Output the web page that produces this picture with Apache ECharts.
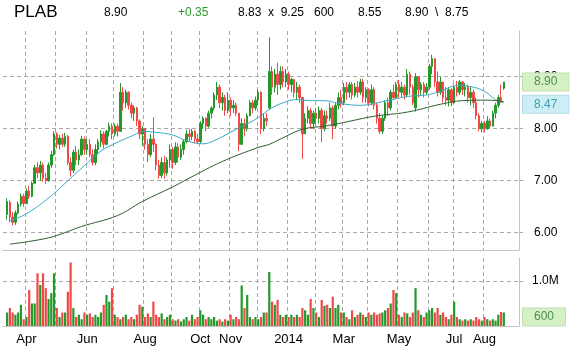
<!DOCTYPE html>
<html>
<head>
<meta charset="utf-8">
<script src="https://cdn.jsdelivr.net/npm/echarts@6/dist/echarts.min.js"></script>
<style>
html, body { margin: 0; padding: 0; background: #fff; }
#chart { width: 570px; height: 351px; }
</style>
</head>
<body>
<div id="chart"></div>
<script>
// one slot = about two trading days; months and how many slots each one gets
const months = ['Mar', 'Apr', 'May', 'Jun', 'Jul', 'Aug', 'Sep', 'Oct', 'Nov', 'Dec', 'Jan', 'Feb', 'Mar', 'Apr', 'May', 'Jun', 'Jul', 'Aug'];
const monthSlots = [8, 11, 11, 10, 11, 10, 10, 11, 10, 11, 10, 10, 9, 11, 11, 9, 11, 13];
const monthLabels = ['', 'Apr', '', 'Jun', '', 'Aug', '', 'Oct', 'Nov', '', '2014', '', 'Mar', '', 'May', '', 'Jul', 'Aug'];
const priceTicks = [6, 7, 8, 9];
const volumeTicks = [1.0];
const firstSlot = 1;

const opens = [
  6.35, 6.58, 6.30, 6.20, 6.38, 6.55, 6.70, 6.56, 6.80, 6.70,
  6.95, 7.25, 7.15, 7.30, 7.05, 7.00, 7.30, 7.50, 7.90, 7.70,
  7.82, 7.70, 7.85, 7.35, 7.20, 7.55, 7.40, 7.50, 7.80, 7.60,
  7.70, 7.50, 7.35, 7.60, 7.75, 7.90, 7.70, 7.95, 8.05, 7.90,
  8.05, 7.95, 8.70, 8.50, 8.70, 8.45, 8.30, 8.40, 8.15, 7.90,
  8.00, 7.70, 7.50, 7.80, 7.70, 7.30, 7.10, 7.35, 7.15, 7.40,
  7.60, 7.35, 7.65, 7.45, 7.60, 7.75, 7.90, 7.85, 7.95, 7.80,
  7.75, 8.10, 8.20, 8.05, 8.30, 8.40, 8.65, 8.80, 8.50, 8.60,
  8.35, 8.55, 8.40, 8.45, 8.30, 7.70, 8.10, 8.00, 8.25, 8.50,
  8.40, 8.55, 8.70, 8.00, 8.20, 8.40, 9.10, 8.80, 9.05, 8.85,
  9.10, 8.90, 9.05, 8.85, 8.95, 8.70, 8.80, 8.60, 7.90, 8.20,
  8.35, 8.10, 8.30, 8.20, 8.35, 8.00, 8.25, 8.20, 8.40, 8.05,
  8.45, 8.60, 8.50, 8.80, 8.70, 8.85, 8.65, 8.80, 8.70, 8.90,
  8.60, 8.75, 8.50, 8.75, 8.45, 8.20, 7.95, 8.20, 8.50, 8.40,
  8.70, 8.60, 8.85, 8.70, 8.80, 8.65, 9.05, 8.80, 8.40, 9.00,
  8.75, 8.85, 8.70, 8.80, 9.20, 9.35, 8.90, 8.70, 8.90, 8.60,
  8.55, 8.75, 8.50, 8.80, 8.70, 8.90, 8.75, 8.80, 8.60, 8.70,
  8.50, 8.25, 8.00, 8.10, 8.00, 8.15, 8.05, 8.30, 8.45, 8.60, 8.78
];
const closes = [
  6.60, 6.30, 6.20, 6.38, 6.55, 6.70, 6.56, 6.80, 6.70, 6.95,
  7.25, 7.15, 7.30, 7.05, 7.00, 7.30, 7.50, 7.90, 7.70, 7.82,
  7.70, 7.85, 7.35, 7.20, 7.55, 7.40, 7.50, 7.80, 7.60, 7.70,
  7.50, 7.35, 7.60, 7.75, 7.90, 7.70, 7.95, 8.05, 7.90, 8.05,
  7.95, 8.70, 8.50, 8.70, 8.45, 8.30, 8.40, 8.15, 7.90, 8.00,
  7.70, 7.50, 7.80, 7.70, 7.30, 7.10, 7.35, 7.15, 7.40, 7.60,
  7.35, 7.65, 7.45, 7.60, 7.75, 7.90, 7.85, 7.95, 7.80, 7.75,
  8.10, 8.20, 8.05, 8.30, 8.40, 8.65, 8.80, 8.50, 8.60, 8.35,
  8.55, 8.40, 8.45, 8.30, 7.70, 8.10, 8.00, 8.25, 8.50, 8.40,
  8.55, 8.70, 8.00, 8.20, 8.15, 9.10, 8.80, 9.05, 8.85, 9.10,
  8.90, 9.05, 8.85, 8.95, 8.70, 8.80, 8.60, 7.90, 8.20, 8.35,
  8.10, 8.30, 8.20, 8.35, 8.00, 8.25, 8.20, 8.40, 8.05, 8.45,
  8.60, 8.50, 8.80, 8.70, 8.85, 8.65, 8.80, 8.70, 8.90, 8.60,
  8.75, 8.50, 8.75, 8.45, 8.20, 7.95, 8.20, 8.50, 8.40, 8.70,
  8.60, 8.85, 8.70, 8.80, 8.65, 9.05, 8.80, 8.50, 9.00, 8.75,
  8.85, 8.70, 8.80, 9.20, 9.35, 8.90, 8.70, 8.90, 8.60, 8.55,
  8.75, 8.50, 8.80, 8.70, 8.90, 8.75, 8.80, 8.60, 8.70, 8.50,
  8.25, 8.00, 8.10, 8.00, 8.15, 8.05, 8.30, 8.45, 8.60, 8.52, 8.90
];
const lows = [
  6.25, 6.20, 6.14, 6.15, 6.35, 6.50, 6.50, 6.55, 6.65, 6.68,
  6.95, 7.05, 7.00, 6.98, 6.94, 6.98, 7.25, 7.48, 7.62, 7.60,
  7.65, 7.65, 7.30, 7.08, 7.15, 7.30, 7.30, 7.48, 7.50, 7.50,
  7.45, 7.29, 7.30, 7.50, 7.65, 7.62, 7.68, 7.85, 7.80, 7.85,
  7.85, 7.95, 8.35, 8.40, 8.37, 8.20, 8.15, 8.05, 7.80, 7.67,
  7.60, 7.36, 7.45, 7.55, 7.20, 7.04, 7.05, 7.04, 7.10, 7.25,
  7.23, 7.30, 7.35, 7.40, 7.50, 7.72, 7.75, 7.78, 7.72, 7.70,
  7.72, 8.00, 7.95, 8.02, 8.20, 8.35, 8.55, 8.40, 8.35, 8.25,
  8.30, 8.24, 8.30, 8.24, 7.57, 7.70, 7.85, 7.95, 8.24, 8.30,
  8.35, 8.45, 7.90, 7.95, 8.05, 8.37, 8.65, 8.70, 8.65, 8.75,
  8.80, 8.80, 8.75, 8.70, 8.60, 8.55, 8.50, 7.42, 7.90, 8.10,
  8.00, 8.00, 8.05, 8.10, 7.74, 7.95, 8.10, 8.15, 7.80, 8.00,
  8.37, 8.40, 8.45, 8.56, 8.60, 8.56, 8.60, 8.60, 8.65, 8.50,
  8.50, 8.43, 8.45, 8.37, 8.10, 7.90, 7.90, 8.15, 8.24, 8.35,
  8.56, 8.58, 8.60, 8.60, 8.56, 8.60, 8.65, 8.45, 8.33, 8.60,
  8.65, 8.60, 8.65, 8.75, 9.05, 8.80, 8.62, 8.65, 8.50, 8.45,
  8.43, 8.43, 8.48, 8.62, 8.65, 8.65, 8.62, 8.50, 8.45, 8.40,
  8.18, 7.95, 7.93, 7.93, 7.98, 8.00, 8.05, 8.20, 8.40, 8.50, 8.75
];
const highs = [
  6.66, 6.62, 6.40, 6.43, 6.60, 6.75, 6.75, 6.85, 6.90, 6.98,
  7.30, 7.36, 7.38, 7.35, 7.15, 7.35, 7.57, 7.95, 7.93, 7.88,
  7.90, 7.92, 7.88, 7.45, 7.60, 7.67, 7.60, 7.86, 7.85, 7.80,
  7.80, 7.60, 7.70, 7.80, 7.97, 7.95, 7.98, 8.12, 8.10, 8.10,
  8.10, 8.88, 8.80, 8.75, 8.72, 8.50, 8.45, 8.42, 8.18, 8.05,
  8.00, 7.80, 7.90, 8.22, 7.72, 7.40, 7.45, 7.48, 7.45, 7.70,
  7.65, 7.74, 7.72, 7.70, 7.80, 7.98, 8.00, 8.00, 7.98, 7.90,
  8.15, 8.24, 8.22, 8.35, 8.43, 8.70, 8.90, 8.85, 8.70, 8.65,
  8.70, 8.60, 8.55, 8.50, 8.30, 8.20, 8.20, 8.30, 8.55, 8.55,
  8.62, 8.75, 8.72, 8.30, 8.30, 9.76, 9.20, 9.15, 9.27, 9.20,
  9.20, 9.15, 9.10, 8.98, 8.95, 8.90, 8.85, 8.60, 8.30, 8.43,
  8.40, 8.35, 8.40, 8.43, 8.40, 8.35, 8.35, 8.50, 8.45, 8.50,
  8.70, 8.75, 8.88, 8.90, 8.90, 8.90, 8.88, 8.92, 8.96, 8.96,
  8.80, 8.78, 8.85, 8.80, 8.50, 8.30, 8.25, 8.55, 8.60, 8.75,
  8.85, 8.90, 8.94, 8.90, 8.85, 9.15, 9.10, 8.85, 9.07, 9.00,
  8.90, 8.90, 8.88, 9.25, 9.42, 9.35, 9.10, 9.00, 8.90, 8.80,
  8.80, 8.78, 8.85, 8.92, 8.94, 8.92, 8.88, 8.85, 8.80, 8.75,
  8.60, 8.30, 8.15, 8.15, 8.24, 8.20, 8.35, 8.50, 8.65, 8.85, 8.90
];
// volume in millions of shares
const volumes = [
  0.30, 0.40, 0.30, 0.25, 0.30, 0.47, 0.15, 0.20, 0.80, 0.50,
  0.50, 1.17, 0.91, 1.17, 0.84, 0.60, 0.73, 1.17, 0.40, 0.20,
  0.30, 0.30, 0.76, 1.41, 0.40, 0.20, 0.25, 0.15, 0.30, 0.25,
  0.28, 0.20, 0.25, 0.20, 0.30, 0.47, 0.69, 0.54, 0.84, 0.25,
  0.20, 0.15, 0.20, 0.25, 0.15, 0.20, 0.15, 0.25, 0.47, 0.43,
  0.20, 0.28, 0.20, 0.54, 0.25, 0.20, 0.28, 0.15, 0.20, 0.25,
  0.15, 0.12, 0.15, 0.10, 0.15, 0.20, 0.12, 0.25, 0.15, 0.20,
  0.35, 0.25, 0.15, 0.20, 0.15, 0.20, 0.12, 0.15, 0.10, 0.15,
  0.12, 0.25, 0.15, 0.20, 0.15, 0.90, 0.40, 0.69, 0.20, 0.15,
  0.20, 0.15, 0.20, 0.30, 0.30, 1.20, 0.54, 0.47, 0.58, 0.25,
  0.20, 0.25, 0.20, 0.25, 0.20, 0.25, 0.20, 0.40, 0.35, 0.25,
  0.60, 0.40, 0.30, 0.20, 0.58, 0.45, 0.47, 0.40, 0.65, 0.40,
  0.47, 0.30, 0.30, 0.20, 0.15, 0.35, 0.20, 0.25, 0.30, 0.25,
  0.20, 0.30, 0.25, 0.30, 0.25, 0.28, 0.30, 0.35, 0.40, 0.50,
  0.80, 0.73, 0.25, 0.20, 0.30, 0.28, 0.20, 0.30, 0.84, 0.35,
  0.25, 0.20, 0.30, 0.35, 0.40, 0.30, 0.40, 0.25, 0.30, 0.20,
  0.15, 0.25, 0.54, 0.20, 0.15, 0.12, 0.15, 0.12, 0.15, 0.12,
  0.20, 0.15, 0.12, 0.20, 0.15, 0.12, 0.15, 0.12, 0.25, 0.31, 0.30
];
// moving averages: [slot, value]
const ma50 = [
  [2, 6.23], [6, 6.31], [10, 6.43], [17, 6.71], [23, 7.0], [29, 7.29], [35, 7.57],
  [41, 7.74], [47, 7.88], [50, 7.95], [55, 7.93], [61, 7.88], [66, 7.77], [72, 7.71],
  [76, 7.77], [84, 7.99], [92, 8.21], [96, 8.37], [101, 8.5], [106, 8.56], [111, 8.54],
  [116, 8.54], [121, 8.49], [129, 8.45], [137, 8.52], [146, 8.62], [153, 8.65],
  [158, 8.72], [164, 8.83], [169, 8.81], [174, 8.72], [178, 8.56], [181, 8.5]
];
const ma200 = [
  [2, 5.78], [10, 5.84], [18, 5.93], [28, 6.12], [41, 6.33], [50, 6.6], [61, 6.88],
  [67, 7.05], [79, 7.37], [92, 7.64], [96, 7.7], [100, 7.8], [108, 7.99], [116, 8.05],
  [123, 8.12], [134, 8.24], [146, 8.32], [158, 8.47], [166, 8.54], [175, 8.55], [181, 8.52]
];
const lastMa50 = 8.47;
const lastVolumeText = '600';
const header = [
  { text: 'PLAB', x: 14, size: 17 },
  { text: '8.90', x: 104 },
  { text: '+0.35', x: 178, color: '#2f9a2f' },
  { text: '8.83  x  9.25', x: 238 },
  { text: '600', x: 314 },
  { text: '8.55', x: 358 },
  { text: '8.90  \\  8.75', x: 405 }
];

const font = "'Liberation Sans', Arial, sans-serif";
const gridColor = '#a8a8a8';
const frameColor = '#c4c4c4';
const upColor = '#23992a';
const downColor = '#f24848';

const categories = [];
const monthStart = {};
months.forEach((m, k) => {
  monthStart[categories.length] = monthLabels[k];
  for (let s = 0; s < monthSlots[k]; s++) {
    categories.push(m + (k < 10 ? '13' : '14') + '-' + s);
  }
});

const candleData = opens.map((o, k) => [firstSlot + k, o, closes[k], lows[k], highs[k]]);
const volumeData = volumes.map((v, k) => [firstSlot + k, v]);

function xAxisFor(gridIndex, showLabels) {
  return {
    type: 'category',
    gridIndex: gridIndex,
    data: categories,
    boundaryGap: true,
    axisLine: { show: true, lineStyle: { color: frameColor } },
    axisTick: { show: false },
    axisLabel: {
      show: showLabels,
      interval: (i) => !!monthStart[i],
      formatter: (v, i) => monthStart[i] || '',
      color: '#000',
      fontSize: 13,
      fontFamily: font,
      margin: 7
    },
    splitLine: {
      show: true,
      interval: (i) => i > 0 && monthStart[i] !== undefined,
      lineStyle: { color: gridColor, type: [4, 3] }
    }
  };
}

function boxLabel(text, bg, border, color) {
  return {
    show: true,
    position: 'end',
    distance: 4,
    formatter: text,
    color: color,
    backgroundColor: bg,
    borderColor: border,
    borderWidth: 1,
    padding: [3, 11, 2, 11],
    fontSize: 12,
    fontFamily: font
  };
}

const chart = echarts.init(document.getElementById('chart'));
chart.setOption({
  animation: false,
  backgroundColor: '#fff',
  graphic: header.map((h) => ({
    type: 'text',
    left: h.x,
    top: 14 - (h.size || 12) * 0.6,
    style: {
      text: h.text,
      fill: h.color || '#000',
      font: (h.size || 12) + 'px ' + font
    }
  })),
  grid: [
    { left: 3, right: 51, top: 31, height: 219 },
    { left: 3, right: 51, top: 258, height: 68 }
  ],
  xAxis: [xAxisFor(0, false), xAxisFor(1, true)],
  yAxis: [
    {
      type: 'value',
      gridIndex: 0,
      position: 'right',
      min: 5.667,
      max: 9.88,
      axisLine: { show: true, lineStyle: { color: frameColor } },
      axisTick: { show: true, length: 4, customValues: priceTicks, lineStyle: { color: gridColor } },
      axisLabel: {
        customValues: priceTicks,
        formatter: (v) => v.toFixed(2),
        margin: 15,
        color: '#000',
        fontSize: 12,
        fontFamily: font
      },
      splitLine: { show: true, lineStyle: { color: gridColor, type: [4, 3] } }
    },
    {
      type: 'value',
      gridIndex: 1,
      position: 'right',
      min: 0,
      max: 1.51,
      axisLine: { show: true, lineStyle: { color: frameColor } },
      axisTick: { show: true, length: 4, customValues: volumeTicks, lineStyle: { color: gridColor } },
      axisLabel: {
        customValues: volumeTicks,
        formatter: (v) => v.toFixed(1) + 'M',
        margin: 13,
        color: '#000',
        fontSize: 12,
        fontFamily: font
      },
      splitLine: { show: true, lineStyle: { color: gridColor, type: [4, 3] } }
    }
  ],
  series: [
    {
      type: 'candlestick',
      xAxisIndex: 0,
      yAxisIndex: 0,
      data: candleData,
      encode: { x: 0, y: [1, 2, 3, 4] },
      barWidth: 2,
      itemStyle: {
        color: upColor,
        color0: downColor,
        borderColor: upColor,
        borderColor0: downColor,
        borderWidth: 1
      },
      markLine: {
        silent: true,
        symbol: ['none', 'none'],
        lineStyle: { color: 'transparent' },
        label: boxLabel(closes[closes.length - 1].toFixed(2), '#d6f0c6', '#c2e0b0', '#4f8f4f'),
        data: [{ yAxis: closes[closes.length - 1] }]
      }
    },
    {
      type: 'line',
      xAxisIndex: 0,
      yAxisIndex: 0,
      data: ma50,
      smooth: 0.4,
      showSymbol: false,
      lineStyle: { color: '#3aa9c2', width: 1 },
      markLine: {
        silent: true,
        symbol: ['none', 'none'],
        lineStyle: { color: 'transparent' },
        label: boxLabel(lastMa50.toFixed(2), '#cdeef5', '#b3dde8', '#3f9fb3'),
        data: [{ yAxis: lastMa50 }]
      }
    },
    {
      type: 'line',
      xAxisIndex: 0,
      yAxisIndex: 0,
      data: ma200,
      smooth: 0.4,
      showSymbol: false,
      lineStyle: { color: '#2e5e2e', width: 1 }
    },
    {
      type: 'bar',
      xAxisIndex: 1,
      yAxisIndex: 1,
      data: volumeData,
      barWidth: 2.2,
      itemStyle: {
        color: (p) => (closes[p.dataIndex] >= opens[p.dataIndex] ? upColor : downColor)
      },
      markLine: {
        silent: true,
        symbol: ['none', 'none'],
        lineStyle: { color: 'transparent' },
        label: boxLabel(lastVolumeText, '#d6f0c6', '#c2e0b0', '#4f8f4f'),
        data: [{ yAxis: 0.2 }]
      }
    }
  ]
});
</script>
</body>
</html>
